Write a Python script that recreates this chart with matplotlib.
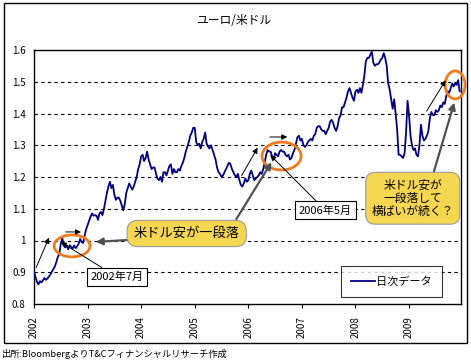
import numpy as np
import matplotlib
matplotlib.use("Agg")
import matplotlib.pyplot as plt
from matplotlib.patches import Ellipse, Rectangle

plt.rcParams['font.family'] = ['Noto Sans CJK JP', 'DejaVu Sans']

# EUR/USD, three readings per month (1st, 11th, 21st)
eur_2002 = [0.903, 0.885, 0.870, 0.862, 0.872, 0.868, 0.874, 0.882, 0.876, 0.880, 0.886, 0.893,
            0.902, 0.910, 0.918, 0.932, 0.948, 0.958, 0.990, 1.008, 0.985, 0.978, 0.985, 0.972,
            0.985, 0.980, 0.975, 0.984, 0.976, 0.982, 0.990, 1.005, 0.995, 0.992, 1.015, 1.035]
eur_2003 = [1.048, 1.060, 1.075, 1.085, 1.078, 1.080, 1.078, 1.065, 1.085, 1.090, 1.080, 1.100,
            1.125, 1.150, 1.170, 1.185, 1.165, 1.175, 1.145, 1.128, 1.135, 1.135, 1.125, 1.110,
            1.095, 1.115, 1.150, 1.165, 1.180, 1.170, 1.160, 1.170, 1.185, 1.200, 1.225, 1.240]
eur_2004 = [1.265, 1.270, 1.250, 1.260, 1.280, 1.255, 1.240, 1.225, 1.230, 1.230, 1.210, 1.195,
            1.190, 1.200, 1.185, 1.215, 1.215, 1.205, 1.220, 1.235, 1.240, 1.210, 1.225, 1.215,
            1.215, 1.225, 1.220, 1.235, 1.245, 1.260, 1.280, 1.295, 1.310, 1.330, 1.340, 1.355]
eur_2005 = [1.355, 1.310, 1.300, 1.305, 1.290, 1.310, 1.320, 1.340, 1.305, 1.295, 1.290, 1.300,
            1.285, 1.270, 1.255, 1.230, 1.215, 1.210, 1.200, 1.205, 1.215, 1.225, 1.235, 1.245,
            1.240, 1.225, 1.215, 1.205, 1.200, 1.210, 1.190, 1.175, 1.170, 1.180, 1.195, 1.185]
eur_2006 = [1.190, 1.210, 1.220, 1.205, 1.190, 1.195, 1.200, 1.205, 1.215, 1.210, 1.225, 1.245,
            1.270, 1.285, 1.280, 1.280, 1.265, 1.255, 1.275, 1.270, 1.265, 1.280, 1.285, 1.280,
            1.280, 1.270, 1.265, 1.270, 1.255, 1.260, 1.275, 1.285, 1.305, 1.325, 1.330, 1.315]
eur_2007 = [1.320, 1.300, 1.295, 1.300, 1.310, 1.315, 1.320, 1.315, 1.330, 1.335, 1.355, 1.360,
            1.360, 1.350, 1.345, 1.345, 1.335, 1.345, 1.355, 1.375, 1.380, 1.370, 1.355, 1.345,
            1.360, 1.385, 1.395, 1.420, 1.420, 1.435, 1.450, 1.470, 1.480, 1.465, 1.450, 1.440]
eur_2008 = [1.470, 1.475, 1.465, 1.480, 1.465, 1.490, 1.520, 1.565, 1.575, 1.575, 1.585, 1.595,
            1.560, 1.550, 1.555, 1.555, 1.560, 1.570, 1.575, 1.590, 1.575, 1.550, 1.495, 1.475,
            1.445, 1.415, 1.445, 1.400, 1.350, 1.270, 1.270, 1.265, 1.260, 1.275, 1.340, 1.440]
eur_2009 = [1.395, 1.330, 1.300, 1.285, 1.290, 1.270, 1.265, 1.300, 1.365, 1.330, 1.315, 1.320,
            1.330, 1.345, 1.385, 1.405, 1.395, 1.395, 1.410, 1.405, 1.410, 1.425, 1.420, 1.435,
            1.430, 1.455, 1.470, 1.465, 1.480, 1.495, 1.485, 1.495, 1.490, 1.505, 1.470]

years = [2002, 2003, 2004, 2005, 2006, 2007, 2008, 2009]
series = [eur_2002, eur_2003, eur_2004, eur_2005, eur_2006, eur_2007, eur_2008, eur_2009]
y_ticks = [0.8, 0.9, 1.0, 1.1, 1.2, 1.3, 1.4, 1.5, 1.6]
y_labels = ['0.8', '0.9', '1', '1.1', '1.2', '1.3', '1.4', '1.5', '1.6']

dates = np.concatenate([yr + np.arange(len(v)) / 36.0 for yr, v in zip(years, series)])
rates = np.concatenate(series)

W, H = 471, 363
fig = plt.figure(figsize=(W / 100, H / 100), dpi=100)
fig.patch.set_facecolor('white')
ax = fig.add_axes([34 / W, 1 - 304 / H, 427 / W, 254 / H])

# outer frame
fig.patches.append(Rectangle((4 / W, 1 - 343 / H), 463 / W, 340 / H, transform=fig.transFigure,
                             fill=False, edgecolor='black', linewidth=1.0))

ax.plot(dates, rates, color='#000080', linewidth=1.3, label='日次データ', zorder=3)

ax.set_xlim(2002, 2009.97)
ax.set_ylim(0.8, 1.6)
ax.set_yticks(y_ticks)
ax.set_yticklabels(y_labels, fontsize=7)
ax.set_xticks(years)
ax.set_xticklabels([str(y) for y in years], rotation=90, fontsize=7)
ax.tick_params(axis='y', length=0, pad=6)
ax.tick_params(axis='x', length=3, width=0.8, pad=6, direction='out')
for s in ax.spines.values():
    s.set_linewidth(1.0)
for v in y_ticks[1:-1]:
    ax.axhline(v, color='black', linewidth=0.8, linestyle=(0, (3, 3)), zorder=1)

fig.text(234 / W, 1 - 20 / H, 'ユーロ/米ドル', ha='center', va='center', fontsize=8.5)
fig.text(2 / W, 1 - 354 / H, '出所:BloombergよりT&Cフィナンシャルリサーチ作成',
         ha='left', va='center', fontsize=6.7)

# orange circles
orange = '#F07A1E'
for (cx, cy, w, h) in [(2002.71, 0.983, 0.67, 0.069), (2006.62, 1.266, 0.73, 0.088),
                       (2009.86, 1.49, 0.37, 0.088)]:
    ax.add_patch(Ellipse((cx, cy), w, h, fill=False, edgecolor=orange, linewidth=2.0,
                         zorder=5, clip_on=False))

# thin black arrows
thin = dict(arrowstyle='-|>', color='black', linewidth=0.7, mutation_scale=8)
for tail, head in [((2002.02, 0.907), (2002.30, 1.017)), ((2002.54, 1.027), (2002.93, 1.027)),
                   ((2005.85, 1.197), (2006.20, 1.300)), ((2006.35, 1.326), (2006.78, 1.326)),
                   ((2009.30, 1.400), (2009.71, 1.512))]:
    ax.annotate('', xy=head, xytext=tail, arrowprops=thin, zorder=6)

# date labels with leader arrows
box_w = dict(boxstyle='square,pad=0.35', facecolor='white', edgecolor='black', linewidth=0.8)
ax.annotate('2002年7月', xy=(2002.50, 0.995), xytext=(2003.55, 0.885), fontsize=8,
            ha='center', va='center', bbox=box_w, zorder=7,
            arrowprops=dict(arrowstyle='-|>', color='black', linewidth=0.7, mutation_scale=8,
                            shrinkA=0, shrinkB=0))
ax.annotate('2006年5月', xy=(2006.41, 1.269), xytext=(2007.44, 1.095), fontsize=8,
            ha='center', va='center', bbox=box_w, zorder=7,
            arrowprops=dict(arrowstyle='-|>', color='black', linewidth=0.7, mutation_scale=8,
                            shrinkA=0, shrinkB=0))

# yellow callouts with grey arrows
grey = dict(arrowstyle='-|>', color='#505050', linewidth=1.6, mutation_scale=10)
for tail, head in [((2003.79, 1.002), (2003.10, 0.995)), ((2005.75, 1.060), (2006.46, 1.254)),
                   ((2009.45, 1.209), (2009.86, 1.443))]:
    ax.annotate('', xy=head, xytext=tail, arrowprops=grey, zorder=6, annotation_clip=False)

box_y = dict(boxstyle='round,pad=0.5,rounding_size=0.8', facecolor='#F5D650',
             edgecolor='#9A9A9A', linewidth=0.8)
ax.text(2004.85, 1.022, '米ドル安が一段落', fontsize=9.5, ha='center', va='center',
        bbox=box_y, zorder=8)
ax.text(2009.07, 1.133, '米ドル安が\n一段落して\n横ばいが続く？', fontsize=8.5, ha='center',
        va='center', linespacing=1.05, bbox=box_y, zorder=8)

leg = ax.legend(loc='lower right', bbox_to_anchor=(442 / W, 1 - 297 / H, 0, 0),
                bbox_transform=fig.transFigure, fontsize=8, frameon=True, fancybox=False,
                handlelength=2.2, borderpad=0.9, handletextpad=0.1, borderaxespad=0)
leg.get_frame().set_edgecolor('black')
leg.get_frame().set_linewidth(0.8)

fig.savefig('out.png', dpi=100)
